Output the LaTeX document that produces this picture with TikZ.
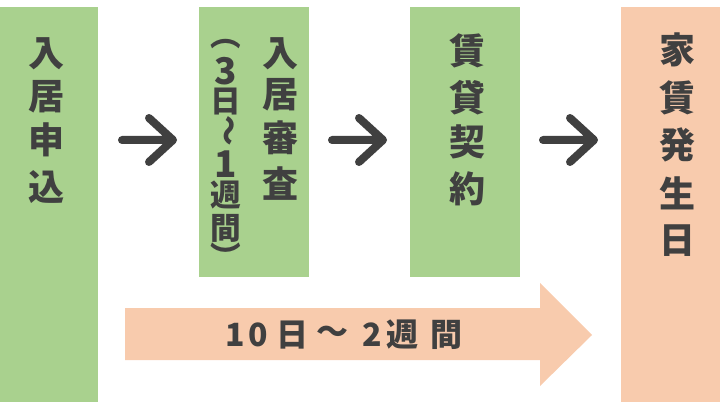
\documentclass[tikz,border=0pt]{standalone}
\usepackage{fontspec}
\setmainfont{Noto Sans CJK JP}
\definecolor{boxgreen}{HTML}{A9D18E}
\definecolor{boxorange}{HTML}{F8CBAD}
\definecolor{inkgray}{HTML}{404040}
\tikzset{
  bigchar/.style={text=inkgray,font=\bfseries\fontsize{27}{27}\selectfont,inner sep=0pt},
  smallchar/.style={text=inkgray,font=\bfseries\fontsize{23}{23}\selectfont,inner sep=0pt},
  spanchar/.style={text=inkgray,font=\bfseries\fontsize{24}{24}\selectfont,inner sep=0pt},
  chevron/.style={draw=inkgray,line width=6pt,line cap=round,line join=round}
}
\begin{document}
\begin{tikzpicture}[x=0.75pt,y=-0.75pt]
\useasboundingbox (0,0) rectangle (720,402);
% boxes
\fill[boxgreen] (0,7) rectangle (98,402);
\fill[boxgreen] (199,7) rectangle (309,277);
\fill[boxgreen] (410,7) rectangle (520,277);
\fill[boxorange] (621,7) rectangle (720,402);
% big arrow
\fill[boxorange] (125,308) -- (540,308) -- (540,283) -- (592,335) -- (540,386) -- (540,360) -- (125,360) -- cycle;
% chevrons
\foreach \x in {122,332,543}
  \draw[chevron] (\x,140) -- (\x+51,140) (\x+27,118) -- (\x+51,140) -- (\x+27,162);
% texts
\foreach \c/\y [count=\i] in {入/54,居/97,申/140,込/187}
  \node[bigchar] (moshikomi\i) at (46,\y) {\c};
\foreach \c/\y [count=\i] in {入/54,居/95,審/138,査/184}
  \node[bigchar] (shinsa\i) at (280,\y) {\c};
\foreach \c/\y/\r/\s [count=\i] in {︵/44/0/1,3/71/0/1.2,日/102/0/1,～/131/-90/1,1/164/0/1.2,週/195/0/1,間/228/0/1,︶/256/0/1}
  \node[smallchar,rotate=\r,scale=\s] (kakko\i) at (226,\y) {\c};
\foreach \c/\y [count=\i] in {賃/51,貸/98,契/142,約/189}
  \node[bigchar] (keiyaku\i) at (467,\y) {\c};
\foreach \c/\y [count=\i] in {家/50,賃/98,発/145,生/193,日/241}
  \node[bigchar] (yachin\i) at (677,\y) {\c};
\foreach \c/\x [count=\i] in {1/235,0/258,日/292,～/332,2/372,週/402,間/446}
  \node[spanchar] (kikan\i) at (\x,335) {\c};
\end{tikzpicture}
\end{document}
